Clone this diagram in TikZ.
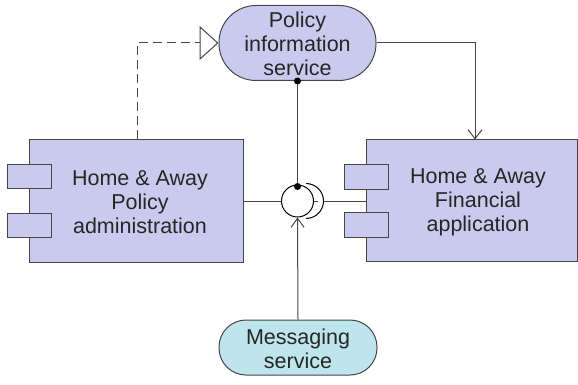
\documentclass[tikz,border=0pt]{standalone}
\usepackage{fontspec}
\setmainfont{Liberation Sans}
\usetikzlibrary{arrows.meta}
\definecolor{lav}{RGB}{202,202,238}
\definecolor{cyanfill}{RGB}{190,228,236}
\definecolor{edge}{RGB}{70,70,70}
\begin{document}
\begin{tikzpicture}[x=1pt,y=-1pt,
  comp/.style={draw=edge,fill=lav,line width=1pt,minimum width=#1,inner sep=0pt},
  port/.style={draw=edge,fill=lav,line width=1pt,minimum width=44pt,minimum height=24.5pt,inner sep=0pt},
  svc/.style={draw=edge,line width=1pt,inner sep=0pt},
  lbl/.style={align=center,font=\fontsize{21.5}{24}\selectfont,text=black!85},
  conn/.style={draw=edge,line width=1pt},
  dotc/.style={circle,fill=black,inner sep=0pt,minimum size=7pt}]
\useasboundingbox (0,0) rectangle (578,385);
% component boxes
\node[comp=214pt,minimum height=122pt] (L) at (136,201) {};
\node[port] (Lp1) at (29,176.5) {};
\node[port] (Lp2) at (29,225.5) {};
\node[lbl] (Lt) at (140,202) {Home \& Away\\Policy\\administration};
\node[comp=211pt,minimum height=121pt] (R) at (471.5,200.5) {};
\node[port] (Rp1) at (366,177) {};
\node[port] (Rp2) at (366,225) {};
\node[lbl] (Rt) at (478,202) {Home \& Away\\Financial\\application};
% services
\node[svc,fill=lav,minimum width=157pt,minimum height=75pt,rounded corners=37pt] (P) at (297.5,43) {};
\node[lbl] (Pt) at (297.5,44) {Policy\\information\\service};
\node[svc,fill=cyanfill,minimum width=158pt,minimum height=55pt,rounded corners=27pt] (M) at (298,347.5) {};
\node[lbl] (Mt) at (298,349) {Messaging\\service};
% interface
\node[draw=black,line width=1pt,circle,minimum size=32pt,inner sep=0pt,fill=white] (I) at (297.5,201) {};
\draw[black,line width=1pt] (306,183.5) arc[start angle=-90,end angle=90,x radius=17.5pt,y radius=-17.5pt] coordinate (arcb);
\coordinate (arcr) at (323.5,201);
\coordinate (stub) at (318,201);
% connectors
\coordinate (dx) at (137,0);
\draw[conn,dash pattern=on 9pt off 5pt,-{Triangle[open,length=19pt,width=34pt,line width=1pt]}] (L.north -| dx) |- (P.west);
\coordinate (ax) at (475,0);
\draw[conn,-{Straight Barb[length=9pt,width=14pt,line width=1pt]}] (P.east) -| (R.north -| ax);
\draw[conn] (P.south) -- (I.north);
\node[dotc] (d1) at (P.south) {};
\node[dotc] (d2) at ([yshift=-2pt]I.north) {};
\draw[conn] (L.east) -- (I.west);
\draw[conn] (I.east) -- (stub);
\draw[conn] (arcr) -- (R.west |- arcr);
\draw[conn,-{Straight Barb[length=9pt,width=13pt,line width=1pt]}] (M.north) -- (I.south);
\end{tikzpicture}
\end{document}
